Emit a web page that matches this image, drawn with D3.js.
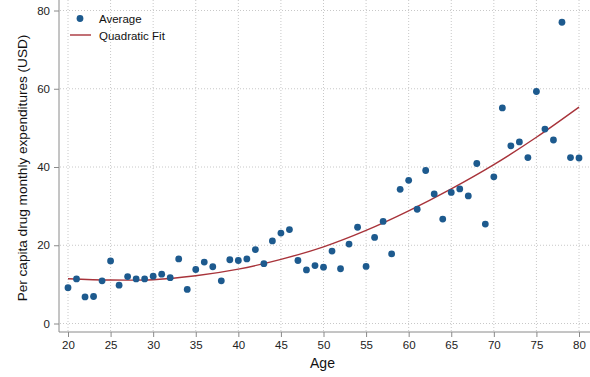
<!DOCTYPE html>
<html>
<head>
<meta charset="utf-8">
<script src="https://cdn.jsdelivr.net/npm/d3@7"></script>
<style>
  body { margin: 0; background: #fff; }
  svg { display: block; font-family: "Liberation Sans", Arial, sans-serif; }
</style>
</head>
<body>
<div id="chart"></div>
<script>
// ages and average spending per age
var ages = [20, 21, 22, 23, 24, 25, 26, 27, 28, 29, 30, 31, 32, 33, 34, 35, 36, 37, 38, 39, 40,
            41, 42, 43, 44, 45, 46, 47, 48, 49, 50, 51, 52, 53, 54, 55, 56, 57, 58, 59, 60,
            61, 62, 63, 64, 65, 66, 67, 68, 69, 70, 71, 72, 73, 74, 75, 76, 77, 78, 79, 80];
var averages = [9.15, 11.4, 6.8, 6.9, 10.9, 16.0, 9.8, 12.0, 11.4, 11.4, 12.1, 12.6, 11.7, 16.5, 8.7, 13.8, 15.7, 14.5, 10.9, 16.3, 16.1,
                16.5, 18.9, 15.3, 21.1, 23.1, 24.0, 16.1, 13.7, 14.8, 14.4, 18.5, 14.0, 20.3, 24.6, 14.6, 22.0, 26.1, 17.8, 34.3, 36.6,
                29.2, 39.1, 33.1, 26.7, 33.5, 34.4, 32.6, 40.9, 25.4, 37.5, 55.1, 45.4, 46.4, 42.4, 59.3, 49.7, 46.9, 77.0, 42.4, 42.3];

// quadratic fit curve, sampled every 5 years
var fitAges = [20, 25, 30, 35, 40, 45, 50, 55, 60, 65, 70, 75, 80];
var fitValues = [11.45, 11.1, 11.2, 12.2, 13.9, 16.4, 19.6, 23.8, 28.8, 34.4, 40.6, 47.6, 55.3];

var xTicks = [20, 25, 30, 35, 40, 45, 50, 55, 60, 65, 70, 75, 80];
var yTicks = [0, 20, 40, 60, 80];

var width = 590, height = 377;
var plotLeft = 59, plotRight = 590, plotTop = 0, plotBottom = 332;
var dotColor = "#1d5a8e", fitColor = "#a8333a", gridColor = "#c8c8c8", axisColor = "#8a8a8a";

var svg = d3.select("#chart").append("svg")
  .attr("width", width)
  .attr("height", height);

var x = d3.scaleLinear().domain([20, 80]).range([68, 579]);
var y = d3.scaleLinear().domain([0, 80]).range([323.5, 10.5]);

/** grid */
svg.append("g").selectAll("line.h")
  .data(yTicks)
  .enter().append("line")
    .attr("x1", plotLeft + 1).attr("x2", plotRight)
    .attr("y1", function(d) { return y(d); }).attr("y2", function(d) { return y(d); })
    .attr("stroke", gridColor).attr("stroke-width", 1).attr("stroke-dasharray", "1,2");
svg.append("g").selectAll("line.v")
  .data(xTicks)
  .enter().append("line")
    .attr("x1", function(d) { return x(d); }).attr("x2", function(d) { return x(d); })
    .attr("y1", plotTop).attr("y2", plotBottom - 1)
    .attr("stroke", gridColor).attr("stroke-width", 1).attr("stroke-dasharray", "1,2");

/** axes */
var xAxis = svg.append("g")
  .attr("transform", "translate(0," + plotBottom + ")")
  .call(d3.axisBottom(x).tickValues(xTicks).tickSize(5).tickPadding(4).tickSizeOuter(0));
xAxis.select(".domain").attr("d", "M" + plotLeft + ",0H" + plotRight);

var yAxis = svg.append("g")
  .attr("transform", "translate(" + plotLeft + ",0)")
  .call(d3.axisLeft(y).tickValues(yTicks).tickSize(5).tickPadding(4).tickSizeOuter(0));
yAxis.select(".domain").attr("d", "M0," + plotTop + "V" + plotBottom);

svg.selectAll(".domain, .tick line").attr("stroke", axisColor).attr("stroke-width", 1);
svg.selectAll(".tick text")
  .attr("fill", "#222")
  .style("font-size", "11.5px")
  .style("font-family", "'Liberation Sans', Arial, sans-serif");

/** axis titles */
svg.append("text")
  .attr("x", (plotLeft + plotRight) / 2 - 2)
  .attr("y", 368)
  .attr("text-anchor", "middle")
  .style("font-size", "14px")
  .attr("fill", "#111")
  .text("Age");

svg.append("text")
  .attr("transform", "translate(27,168) rotate(-90)")
  .attr("text-anchor", "middle")
  .style("font-size", "13.6px")
  .attr("fill", "#111")
  .text("Per capita drug monthly expenditures (USD)");

/** fit line */
var fitData = fitAges.map(function(a, i) { return {age: a, value: fitValues[i]}; });
svg.append("path")
  .datum(fitData)
  .attr("fill", "none")
  .attr("stroke", fitColor)
  .attr("stroke-width", 1.4)
  .attr("d", d3.line()
    .x(function(d) { return x(d.age); })
    .y(function(d) { return y(d.value); })
    .curve(d3.curveCatmullRom));

/** scatter points */
var points = ages.map(function(a, i) { return {age: a, value: averages[i]}; });
svg.append("g").selectAll("circle")
  .data(points)
  .enter().append("circle")
    .attr("cx", function(d) { return x(d.age); })
    .attr("cy", function(d) { return y(d.value); })
    .attr("r", 3.4)
    .attr("fill", dotColor);

/** legend */
var legend = svg.append("g");
legend.append("circle").attr("cx", 80).attr("cy", 18.5).attr("r", 3.4).attr("fill", dotColor);
legend.append("text").attr("x", 99).attr("y", 23).style("font-size", "11.5px").attr("fill", "#111").text("Average");
legend.append("line").attr("x1", 70).attr("x2", 91).attr("y1", 35).attr("y2", 35)
  .attr("stroke", fitColor).attr("stroke-width", 1.4);
legend.append("text").attr("x", 99).attr("y", 40).style("font-size", "11.5px").attr("fill", "#111").text("Quadratic Fit");
</script>
</body>
</html>
